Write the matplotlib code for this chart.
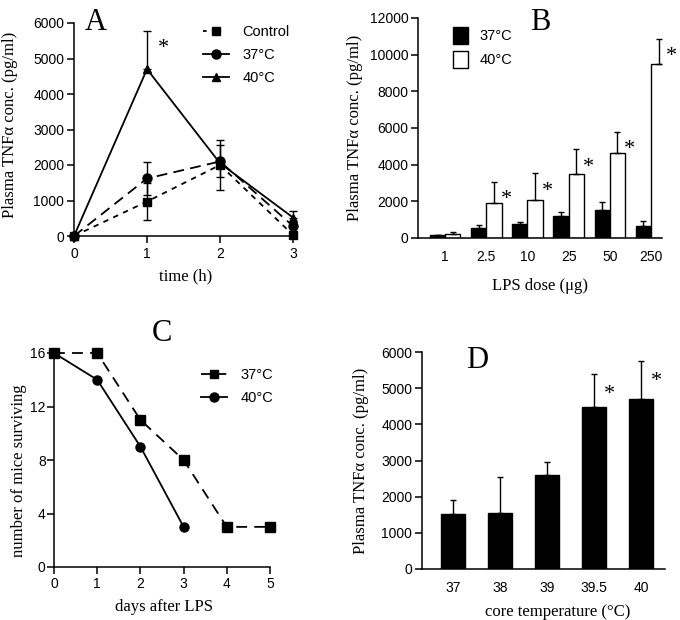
import matplotlib
matplotlib.use("Agg")
import matplotlib.pyplot as plt
import numpy as np
from matplotlib.lines import Line2D
from matplotlib.patches import Patch

# ---------------- data ----------------
# Panel A
time_h = [0, 1, 2, 3]
ctrl_tnf = [0, 970, 2000, 30]
ctrl_err = [0, 520, 710, 0]
c37_tnf = [0, 1620, 2100, 280]
c37_err = [0, 470, 450, 0]
c40_tnf = [0, 4700, 2050, 520]
c40_err = [0, 1080, 0, 180]

# Panel B
lps_dose = ["1", "2.5", "10", "25", "50", "250"]
b37 = [150, 550, 780, 1200, 1550, 680]
b37_err = [40, 170, 100, 230, 400, 230]
b40 = [200, 1930, 2080, 3500, 4650, 9500]
b40_err = [120, 1120, 1440, 1330, 1130, 1370]

# Panel C
days = [0, 1, 2, 3, 4, 5]
surv37 = [16, 16, 11, 8, 3, 3]
days40 = [0, 1, 2, 3]
surv40 = [16, 14, 9, 3]

# Panel D
core_temp = ["37", "38", "39", "39.5", "40"]
d_tnf = [1530, 1550, 2600, 4470, 4700]
d_err = [370, 980, 350, 910, 1050]
d_star = [False, False, False, True, True]

# ---------------- style ----------------
SANS = ["Liberation Sans", "DejaVu Sans"]
SERIF = ["Liberation Serif", "DejaVu Serif"]
plt.rcParams["font.family"] = SANS
TICK_FS = 10
LAB_FS = 12
LET_FS = 22
LW = 1.3

fig = plt.figure(figsize=(6.8, 6.2), dpi=100)
W, H = 680, 620


def add_ax(l, r, t, b):
    return fig.add_axes([l / W, 1 - b / H, (r - l) / W, (b - t) / H])


def style(ax):
    for s in ["top", "right"]:
        ax.spines[s].set_visible(False)
    for s in ["left", "bottom"]:
        ax.spines[s].set_linewidth(1.1)
    ax.tick_params(direction="out", length=5, width=1.1, labelsize=TICK_FS, pad=2)
    for lab in ax.get_xticklabels() + ax.get_yticklabels():
        lab.set_family(SANS)


# ---------------- Panel A ----------------
axA = add_ax(74, 293, 23, 236)
axA.errorbar(time_h, ctrl_tnf, yerr=ctrl_err, color="black", lw=LW, ls=(0, (3, 3)),
             marker="s", ms=6, capsize=3, elinewidth=1, zorder=3)
axA.errorbar(time_h, c37_tnf, yerr=c37_err, color="black", lw=LW, ls=(0, (6, 3.5)),
             marker="o", ms=6.5, capsize=3, elinewidth=1, zorder=3)
axA.errorbar(time_h, c40_tnf, yerr=[[0, 0, 0, 0], c40_err], color="black", lw=LW, ls="-",
             marker="^", ms=6, capsize=3, elinewidth=1, zorder=3)
axA.set_xlim(0, 3)
axA.set_ylim(0, 6000)
axA.set_xticks([0, 1, 2, 3])
axA.set_yticks(range(0, 6001, 1000))
for art in axA.get_children():
    try:
        art.set_clip_on(False)
    except Exception:
        pass
style(axA)
axA.tick_params(axis="x", pad=3)
axA.set_xlabel("time (h)", family=SERIF, fontsize=LAB_FS)
axA.set_ylabel("Plasma TNF\u03b1 conc. (pg/ml)", family=SERIF, fontsize=LAB_FS)
axA.xaxis.set_label_coords(0.51, -0.15)
axA.yaxis.set_label_coords(-0.255, 0.52)
axA.annotate("*", (1, c40_tnf[1] + c40_err[1]), xytext=(8, -16), textcoords="offset points",
             family=SERIF, fontsize=16)
axA.text(0.05, 1.0, "A", transform=axA.transAxes, family=SERIF, fontsize=LET_FS, va="center")
hA = [Line2D([], [], color="black", lw=LW, ls=(0, (2, 6)), marker="s", ms=6, markevery=[1]),
      Line2D([], [], color="black", lw=LW, ls="-", marker="o", ms=6.5),
      Line2D([], [], color="black", lw=LW, ls="-", marker="^", ms=6)]
legA = axA.legend(hA, ["Control", "37\u00b0C", "40\u00b0C"], loc="upper left",
                  bbox_to_anchor=(0.53, 1.05), frameon=False, fontsize=TICK_FS + 0.5,
                  handlelength=1.8, handletextpad=0.9, labelspacing=0.6)
for t in legA.get_texts():
    t.set_family(SANS)

# ---------------- Panel B ----------------
axB = add_ax(418, 662, 18, 238)
xb = np.arange(len(lps_dose))
bw = 0.37
axB.bar(xb - bw / 2, b37, bw, yerr=[np.zeros(len(b37)), b37_err], color="black",
        edgecolor="black", lw=1, capsize=2.5, error_kw=dict(elinewidth=1, capthick=1))
axB.bar(xb + bw / 2, b40, bw, yerr=[np.zeros(len(b40)), b40_err], color="white",
        edgecolor="black", lw=1, capsize=2.5, error_kw=dict(elinewidth=1, capthick=1))
for i in range(1, len(lps_dose)):
    axB.annotate("*", (xb[i] + bw / 2, b40[i] + b40_err[i]), xytext=(5, -16),
                 textcoords="offset points", family=SERIF, fontsize=16)
axB.set_xlim(-0.66, 5.27)
axB.set_ylim(0, 12000)
axB.set_xticks(xb)
axB.set_xticklabels(lps_dose)
axB.set_yticks(range(0, 12001, 2000))
style(axB)
axB.tick_params(axis="x", length=0, pad=9)
axB.set_xlabel("LPS dose (\u03bcg)", family=SERIF, fontsize=LAB_FS)
axB.set_ylabel("Plasma TNF\u03b1 conc. (pg/ml)", family=SERIF, fontsize=LAB_FS)
axB.xaxis.set_label_coords(0.5, -0.18)
axB.yaxis.set_label_coords(-0.225, 0.5)
axB.text(0.46, 0.98, "B", transform=axB.transAxes, family=SERIF, fontsize=LET_FS, va="center")
hB = [Patch(facecolor="black", edgecolor="black"), Patch(facecolor="white", edgecolor="black")]
legB = axB.legend(hB, ["37\u00b0C", "40\u00b0C"], loc="upper left", bbox_to_anchor=(0.09, 1.02),
                  frameon=False, fontsize=TICK_FS + 0.5, handlelength=1.0, handleheight=1.4,
                  handletextpad=0.8, labelspacing=0.5)
for t in legB.get_texts():
    t.set_family(SANS)

# ---------------- Panel C ----------------
axC = add_ax(54, 270, 353, 567)
axC.plot(days, surv37, color="black", lw=LW, ls=(0, (6, 4)), marker="s", ms=6.5, clip_on=False)
axC.plot(days40, surv40, color="black", lw=LW, ls="-", marker="o", ms=6.5, clip_on=False)
axC.set_xlim(0, 5)
axC.set_ylim(0, 16)
axC.set_xticks(days)
axC.set_yticks([0, 4, 8, 12, 16])
style(axC)
axC.tick_params(axis="y", pad=1)
axC.set_xlabel("days after LPS", family=SERIF, fontsize=LAB_FS)
axC.set_ylabel("number of mice surviving", family=SERIF, fontsize=LAB_FS)
axC.xaxis.set_label_coords(0.51, -0.15)
axC.yaxis.set_label_coords(-0.125, 0.45)
axC.text(0.5, 1.09, "C", transform=axC.transAxes, family=SERIF, fontsize=LET_FS,
         va="center", ha="center")
hC = [Line2D([], [], color="black", lw=LW, ls=(0, (6, 2)), marker="s", ms=6),
      Line2D([], [], color="black", lw=LW, ls="-", marker="o", ms=6.5)]
legC = axC.legend(hC, ["37\u00b0C", "40\u00b0C"], loc="upper left", bbox_to_anchor=(0.62, 0.99),
                  frameon=False, fontsize=TICK_FS + 0.5, handlelength=1.8, handletextpad=0.9,
                  labelspacing=0.6)
for t in legC.get_texts():
    t.set_family(SANS)

# ---------------- Panel D ----------------
axD = add_ax(422, 665, 352, 569)
xd = np.arange(len(core_temp))
axD.bar(xd, d_tnf, 0.53, yerr=[np.zeros(len(d_tnf)), d_err], color="black", edgecolor="black",
        capsize=2.5, error_kw=dict(elinewidth=1, capthick=1))
for i, s in enumerate(d_star):
    if s:
        axD.annotate("*", (xd[i], d_tnf[i] + d_err[i]), xytext=(7, -18),
                     textcoords="offset points", family=SERIF, fontsize=16)
axD.set_xlim(-0.66, 4.51)
axD.set_ylim(0, 6000)
axD.set_xticks(xd)
axD.set_xticklabels(core_temp)
axD.set_yticks(range(0, 6001, 1000))
style(axD)
axD.tick_params(axis="x", length=0, pad=9)
axD.set_xlabel("core temperature (\u00b0C)", family=SERIF, fontsize=LAB_FS)
axD.set_ylabel("Plasma TNF\u03b1 conc. (pg/ml)", family=SERIF, fontsize=LAB_FS)
axD.xaxis.set_label_coords(0.56, -0.16)
axD.yaxis.set_label_coords(-0.22, 0.5)
axD.text(0.18, 0.96, "D", transform=axD.transAxes, family=SERIF, fontsize=LET_FS, va="center")

fig.savefig("out.png", dpi=100, facecolor="white")
